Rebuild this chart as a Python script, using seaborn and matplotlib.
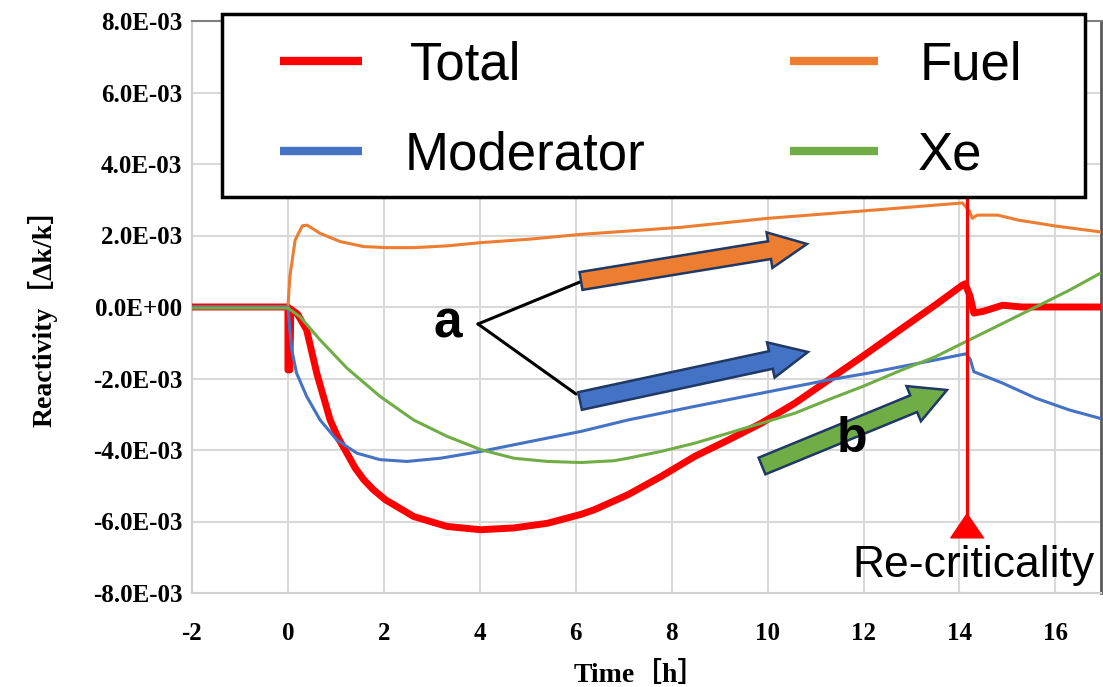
import numpy as np
import pandas as pd
import matplotlib
matplotlib.use("Agg")
import matplotlib.pyplot as plt
import seaborn as sns
from matplotlib.lines import Line2D
from matplotlib.patches import Polygon, Rectangle

# ---------------- data (reactivity in units of 1E-3 dk/k, time in h) ----------------
total_t = [-2, 0, 0, 0.04, 0.06, 0.2, 0.39, 0.6, 0.88, 1.05, 1.23, 1.4, 1.58, 1.78, 2.03, 2.62,
           3.32, 4.02, 4.71, 5.41, 6.11, 6.39, 7.09, 7.78, 8.48, 9.18, 9.87, 10.57, 11.27,
           11.97, 12.8, 13.5, 14.06, 14.12, 14.22, 14.3, 14.5, 14.9, 15.3, 17.0]
total_r = [0, 0, -1.76, -1.76, -0.06, -0.2, -0.64, -1.85, -3.16, -3.67, -4.09, -4.5, -4.83,
           -5.11, -5.39, -5.86, -6.14, -6.23, -6.18, -6.05, -5.8, -5.67, -5.25, -4.74, -4.18,
           -3.72, -3.25, -2.69, -2.04, -1.39, -0.6, 0.06, 0.61, 0.65, 0.3, -0.17, -0.12,
           0.05, 0.0, 0.0]

fuel_t = [-2, 0, 0.04, 0.15, 0.3, 0.4, 0.67, 1.09, 1.58, 2.07, 2.62, 3.32, 4.02, 5.06, 6.09,
          7.15, 8.2, 10.0, 12.02, 14.06, 14.2, 14.27, 14.37, 14.8, 15.23, 16.03, 17.0]
fuel_r = [0, 0, 0.85, 1.87, 2.27, 2.29, 2.06, 1.83, 1.69, 1.66, 1.66, 1.71, 1.80, 1.90, 2.03,
          2.13, 2.23, 2.48, 2.69, 2.91, 2.7, 2.48, 2.57, 2.57, 2.43, 2.26, 2.09]

mod_t = [-2, 0, 0.03, 0.08, 0.18, 0.39, 0.67, 1.02, 1.44, 1.92, 2.48, 3.18, 4.02, 5.06, 6.11,
         7.09, 8.48, 9.87, 11.27, 12.1, 13.5, 14.13, 14.22, 14.3, 14.9, 15.59, 16.29, 17.0]
mod_r = [0, 0, -0.5, -1.2, -1.85, -2.5, -3.16, -3.72, -4.09, -4.27, -4.32, -4.23, -4.04, -3.76,
         -3.48, -3.16, -2.78, -2.41, -2.04, -1.85, -1.48, -1.31, -1.45, -1.81, -2.13, -2.55,
         -2.88, -3.14]

xe_t = [-2, 0, 0.25, 0.67, 1.23, 1.92, 2.62, 3.32, 4.02, 4.71, 5.41, 6.11, 6.8, 7.09, 7.78,
        8.48, 9.18, 9.87, 10.57, 11.27, 11.97, 12.8, 13.5, 14.13, 14.9, 15.59, 16.29, 17.0]
xe_r = [-0.03, -0.03, -0.27, -0.92, -1.71, -2.5, -3.16, -3.62, -3.99, -4.23, -4.32, -4.35,
        -4.3, -4.23, -4.04, -3.81, -3.53, -3.25, -2.97, -2.59, -2.23, -1.76, -1.39, -0.97,
        -0.46, 0.0, 0.47, 0.99]

series_names = ["Total", "Fuel", "Moderator", "Xe"]
series_colors = ["#FF0000", "#ED7D31", "#4472C4", "#70AD47"]

recrit_time = 14.16
xtick_vals = [-2, 0, 2, 4, 6, 8, 10, 12, 14, 16]
ytick_vals = [-8, -6, -4, -2, 0, 2, 4, 6, 8]
ytick_labels = ["-8.0E-03", "-6.0E-03", "-4.0E-03", "-2.0E-03", "0.0E+00",
                "2.0E-03", "4.0E-03", "6.0E-03", "8.0E-03"]
SCALE = 1e-3

# ---------------- figure ----------------
sns.set_style("white")
plt.rcParams['font.family'] = ['Liberation Sans', 'DejaVu Sans']
plt.rcParams['text.color'] = 'black'
plt.rcParams['axes.labelcolor'] = 'black'
plt.rcParams['xtick.color'] = 'black'
plt.rcParams['ytick.color'] = 'black'
plt.rcParams['axes.unicode_minus'] = False

W, H = 1103, 687
fig = plt.figure(figsize=(W / 100, H / 100), dpi=100)
ax = fig.add_axes([192 / W, 1 - 593 / H, (1101 - 192) / W, (593 - 21) / H])


def make_df(t, r, name):
    return pd.DataFrame({"Time": t, "Reactivity": np.array(r) * SCALE, "Series": name})


frames = {
    "Total": make_df(total_t, total_r, "Total"),
    "Fuel": make_df(fuel_t, fuel_r, "Fuel"),
    "Moderator": make_df(mod_t, mod_r, "Moderator"),
    "Xe": make_df(xe_t, xe_r, "Xe"),
}
widths = {"Total": 5.0, "Fuel": 2.2, "Moderator": 2.2, "Xe": 2.2}
draw_order = ["Total", "Fuel", "Moderator", "Xe"]
for name in draw_order:
    col = series_colors[series_names.index(name)]
    sns.lineplot(data=frames[name], x="Time", y="Reactivity", color=col,
                 linewidth=widths[name], sort=False, estimator=None, ax=ax,
                 legend=False, zorder=3)

# re-criticality marker line
ax.plot([recrit_time, recrit_time], [-5.9 * SCALE, 8 * SCALE], color="#FF0000", lw=2.3, zorder=6,
        solid_capstyle="butt")
ax.plot([recrit_time], [-6.09 * SCALE], linestyle="none", color="#FF0000",
        marker=[(0, 0.74), (-1, -0.74), (1, -0.74)], markersize=24, zorder=6)

ax.set_xlim(-2, 16.95)
ax.set_ylim(-8 * SCALE, 8 * SCALE)
ax.set_xticks(xtick_vals)
ax.set_yticks(np.array(ytick_vals) * SCALE)
ax.set_yticklabels(ytick_labels)

serif = ['Liberation Serif', 'Noto Sans CJK JP', 'DejaVu Serif']
for lab in ax.get_xticklabels() + ax.get_yticklabels():
    lab.set_fontfamily(serif)
    lab.set_fontweight("bold")
    lab.set_fontsize(18)
ax.tick_params(axis="both", length=0)
ax.tick_params(axis="y", pad=7)
ax.tick_params(axis="x", pad=21)

ax.grid(True, color="#D9D9D9", lw=1.5, zorder=0)
ax.set_axisbelow(True)
for side in ["left", "bottom"]:
    ax.spines[side].set_color("#D0D0D0")
    ax.spines[side].set_linewidth(1.5)
ax.spines["top"].set_color("#7F7F7F")
ax.spines["top"].set_linewidth(1.5)
ax.spines["right"].set_color("#595959")
ax.spines["right"].set_linewidth(2.0)

ax.set_xlabel("Time［h］", fontfamily=serif, fontweight="bold", fontsize=20)
ax.set_ylabel("Reactivity［Δk/k］", fontfamily=serif, fontweight="bold", fontsize=20)
ax.xaxis.set_label_coords((640 - 192) / 909, -0.12)
ax.yaxis.set_label_coords(-0.148, 0.493)


# ---------------- legend (drawn in figure pixel space) ----------------
def to_fig(p):
    return (p[0] / W, 1 - p[1] / H)


fig.add_artist(Rectangle(to_fig((222, 197)), (1085 - 222) / W, (197 - 14) / H,
                         transform=fig.transFigure, fc="white", ec="black", lw=2.5,
                         zorder=20))
legend_layout = {  # name: (handle x0, handle x1, row y, text x, baseline)
    "Total": (280, 362, 61, 410, 80),
    "Fuel": (790, 878, 61, 920, 80),
    "Moderator": (280, 362, 151, 405, 170),
    "Xe": (790, 878, 151, 918, 170),
}
for name, col in zip(series_names, series_colors):
    hx0, hx1, hy, tx, ty = legend_layout[name]
    fig.add_artist(Line2D([hx0 / W, hx1 / W], [1 - hy / H, 1 - hy / H], color=col, lw=6,
                          solid_capstyle="butt", transform=fig.transFigure, zorder=21))
    fig.text(tx / W, 1 - ty / H, name, ha="left", va="baseline", fontsize=38, zorder=21)


# ---------------- annotations (pixel-placed) ----------------
def block_arrow(tail, tip, shaft_hw, head_hw, head_len, fc):
    T = np.array(tail, float)
    P = np.array(tip, float)
    d = (P - T) / np.linalg.norm(P - T)
    n = np.array([-d[1], d[0]])
    Hb = P - d * head_len
    pts = [T + n * shaft_hw, Hb + n * shaft_hw, Hb + n * head_hw, P,
           Hb - n * head_hw, Hb - n * shaft_hw, T - n * shaft_hw]
    fig.add_artist(Polygon([to_fig(p) for p in pts], closed=True, transform=fig.transFigure,
                           fc=fc, ec="#1F3864", lw=1.8, zorder=8))


block_arrow((581, 281), (807, 244), 9, 18, 38, "#ED7D31")
block_arrow((580, 401), (808, 352), 9, 18, 38, "#4472C4")
block_arrow((762, 466), (947, 390), 9, 19, 36, "#70AD47")

fig.add_artist(Line2D([478 / W, 580 / W], [1 - 324 / H, 1 - 282 / H], color="black", lw=2.2,
                      transform=fig.transFigure, zorder=7))
fig.add_artist(Line2D([478 / W, 576 / W], [1 - 324 / H, 1 - 394 / H], color="black", lw=2.2,
                      transform=fig.transFigure, zorder=7))

fig.text(448 / W, 1 - 337 / H, "a", ha="center", va="baseline", fontsize=37,
         fontweight="bold", zorder=9)
fig.text(852 / W, 1 - 452 / H, "b", ha="center", va="baseline", fontsize=36,
         fontweight="bold", zorder=9)
fig.text(973 / W, 1 - 577 / H, "Re-criticality", ha="center", va="baseline", fontsize=32,
         zorder=9)

fig.savefig("out.png", dpi=100)
